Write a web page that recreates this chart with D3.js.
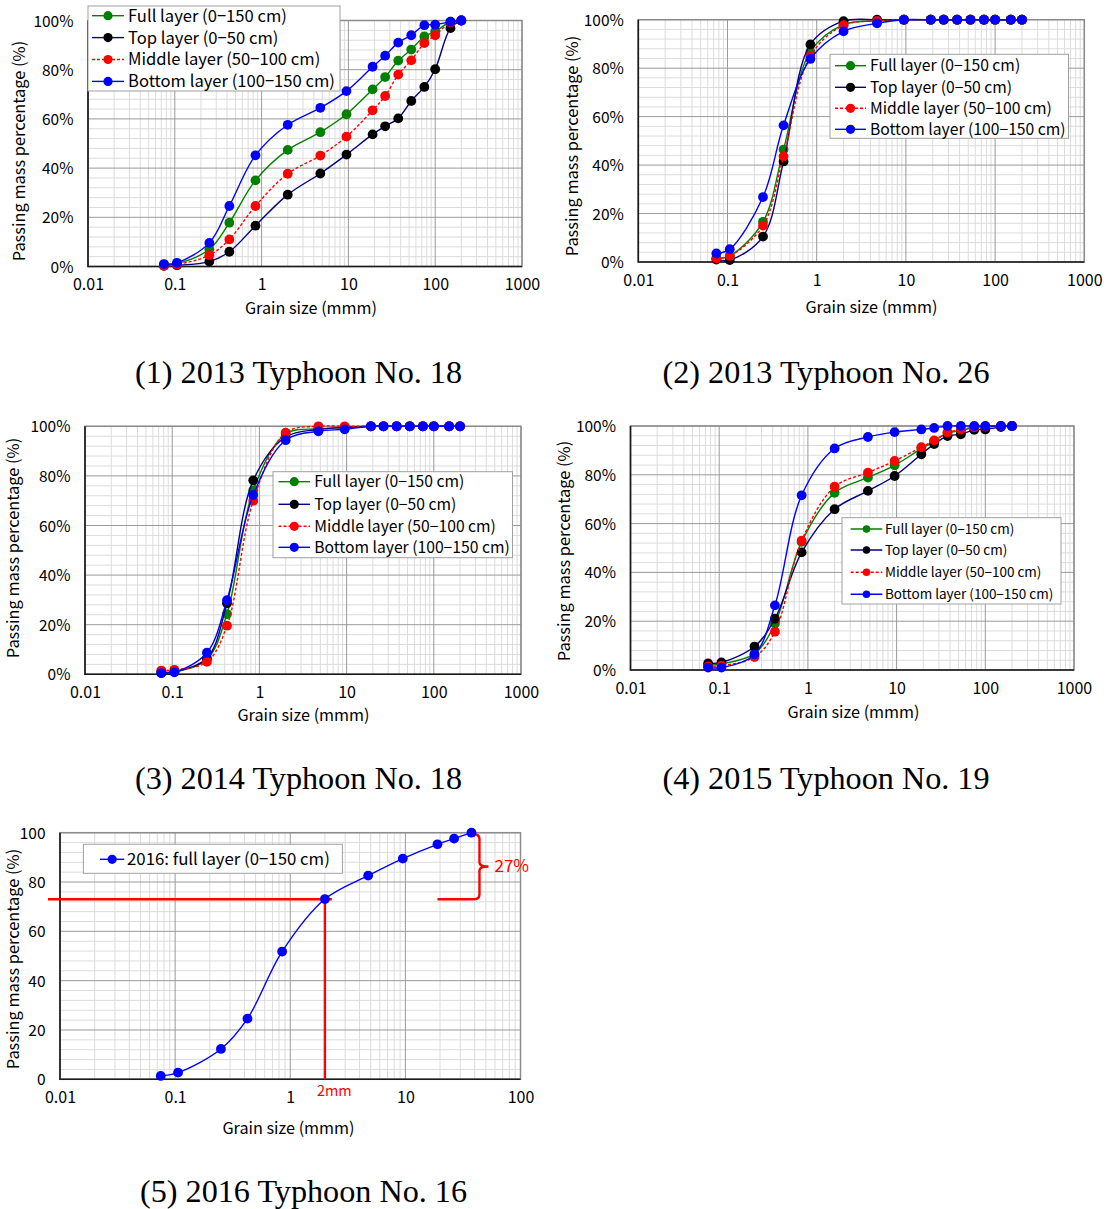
<!DOCTYPE html>
<html><head><meta charset="utf-8">
<script src="https://cdn.jsdelivr.net/npm/d3@7"></script>
<style>
body{margin:0;background:#fff;}
svg text{font-family:"Noto Sans CJK JP","Noto Sans",sans-serif;fill:#000;}
svg text.cap{font-family:"Liberation Serif","Times New Roman",serif;}
</style></head><body>
<svg id="chart" width="1107" height="1209"></svg>
<script>
// ---------------- DATA ----------------
const sieveSizes = [0.075, 0.106, 0.25, 0.425, 0.85, 2, 4.75, 9.5, 19, 26.5, 37.5, 53, 75, 100, 150, 200];
const sieveSizes2016 = [0.075, 0.106, 0.25, 0.425, 0.85, 2, 4.75, 9.5, 19, 26.5, 37.5];
const seriesNames = ["Full layer (0−150 cm)", "Top layer (0−50 cm)", "Middle layer (50−100 cm)", "Bottom layer (100−150 cm)"];
const seriesName2016 = "2016: full layer (0−150 cm)";

// (1) 2013 Typhoon No. 18
const t1318Full   = [0.8, 1.2, 7.0, 17.8, 35.0, 47.4, 54.6, 61.9, 72.0, 77.0, 83.7, 88.2, 93.5, 95.5, 99.5, 100];
const t1318Top    = [0.3, 0.5, 2.0, 6.0, 16.6, 29.2, 37.8, 45.5, 53.7, 57.0, 60.2, 67.3, 73.0, 80.2, 96.9, 100];
const t1318Middle = [0.3, 0.8, 4.6, 11.0, 24.6, 37.7, 45.1, 52.8, 63.5, 69.3, 78.0, 83.8, 90.8, 94.0, 99.2, 100];
const t1318Bottom = [1.0, 1.5, 9.6, 24.6, 45.2, 57.6, 64.5, 71.3, 81.2, 85.7, 91.0, 94.0, 98.1, 98.3, 99.5, 100];

// (2) 2013 Typhoon No. 26
const t1326Full   = [1.5, 2.5, 16.6, 46.4, 86.8, 98.0, 99.5, 100, 100, 100, 100, 100, 100, 100, 100, 100];
const t1326Top    = [1.0, 0.8, 10.5, 41.5, 89.8, 99.4, 100, 100, 100, 100, 100, 100, 100, 100, 100, 100];
const t1326Middle = [1.5, 2.5, 15.0, 43.6, 85.0, 97.7, 99.5, 100, 100, 100, 100, 100, 100, 100, 100, 100];
const t1326Bottom = [3.5, 5.3, 26.8, 56.4, 83.8, 95.2, 98.5, 100, 100, 100, 100, 100, 100, 100, 100, 100];

// (3) 2014 Typhoon No. 18
const t1418Full   = [1.0, 1.0, 6.0, 24.3, 74.2, 96.9, 99.0, 99.5, 100, 100, 100, 100, 100, 100, 100, 100];
const t1418Top    = [0.5, 1.0, 6.5, 28.6, 78.2, 95.7, 98.7, 99.5, 100, 100, 100, 100, 100, 100, 100, 100];
const t1418Middle = [1.5, 1.8, 5.0, 19.6, 70.0, 97.4, 100, 100, 100, 100, 100, 100, 100, 100, 100, 100];
const t1418Bottom = [0.5, 0.8, 8.7, 29.9, 72.3, 94.4, 98.0, 98.8, 100, 100, 100, 100, 100, 100, 100, 100];

// (4) 2015 Typhoon No. 19
const t1519Full   = [2.0, 2.5, 6.7, 19.0, 52.5, 72.6, 78.9, 83.9, 90.7, 93.7, 97.3, 98.0, 99.6, 99.6, 100, 100];
const t1519Top    = [2.7, 3.1, 9.6, 21.0, 48.2, 65.9, 73.4, 79.5, 88.4, 92.6, 95.9, 96.6, 98.4, 98.6, 99.6, 100];
const t1519Middle = [1.5, 1.8, 5.3, 15.7, 53.0, 75.1, 80.9, 85.7, 91.3, 94.1, 97.3, 98.5, 99.5, 99.8, 100, 100];
const t1519Bottom = [1.0, 1.0, 6.4, 26.5, 71.6, 90.8, 95.5, 97.5, 98.6, 99.2, 100, 100, 100, 100, 100, 100];

// (5) 2016 Typhoon No. 16
const t1616Full = [1.35, 2.7, 12.3, 24.6, 51.8, 73.1, 82.6, 89.5, 95.3, 97.6, 100];

const xTicksTo1000 = [0.01, 0.1, 1, 10, 100, 1000];
const xTickLabelsTo1000 = ["0.01", "0.1", "1", "10", "100", "1000"];
const xTicksTo100 = [0.01, 0.1, 1, 10, 100];
const xTickLabelsTo100 = ["0.01", "0.1", "1", "10", "100"];
const yTicks = [0, 20, 40, 60, 80, 100];
const yTickLabelsPct = ["0%", "20%", "40%", "60%", "80%", "100%"];
const yTickLabelsPlain = ["0", "20", "40", "60", "80", "100"];
const captions = ["(1) 2013 Typhoon No. 18", "(2) 2013 Typhoon No. 26", "(3) 2014 Typhoon No. 18", "(4) 2015 Typhoon No. 19", "(5) 2016 Typhoon No. 16"];
const xTitle = "Grain size (mmm)";
const yTitle = "Passing mass percentage (%)";
const annotationSize = 2;      // mm
const annotationPassing = 73;  // %
const annotationLabel = "2mm";
const braceLabel = "27%";

// ---------------- STYLES ----------------
const seriesStyles = [
  {line: "#008000", marker: "#008000", dash: null},
  {line: "#000080", marker: "#000000", dash: null},
  {line: "#ff0000", marker: "#ff0000", dash: "3,2"},
  {line: "#0000ff", marker: "#0000ff", dash: null}
];

// ---------------- LAYOUT ----------------
const panels = [
  {data: [t1318Full, t1318Top, t1318Middle, t1318Bottom], sizes: sieveSizes, names: seriesNames, styles: seriesStyles,
   xDom: [0.01, 1000], xT: xTicksTo1000, xL: xTickLabelsTo1000, yL: yTickLabelsPct,
   left: 88, right: 522, top: 20.5, bottom: 266.5,
   xTitleX: 311, xTitleY: 313.7, yTitleX: 19, yTitleY: 151,
   leg: {x: 88, y: 6, w: 252, h: 85, rows: [15.7, 37.6, 59.5, 81.4], s0: 92, s1: 124, tx: 128, fs: 16.6, mr: 4.6},
   cap: {x: 298.5, y: 383}},
  {data: [t1326Full, t1326Top, t1326Middle, t1326Bottom], sizes: sieveSizes, names: seriesNames, styles: seriesStyles,
   xDom: [0.01, 1000], xT: xTicksTo1000, xL: xTickLabelsTo1000, yL: yTickLabelsPct,
   left: 638.3, right: 1084.3, top: 19.7, bottom: 262,
   xTitleX: 871.5, xTitleY: 313, yTitleX: 572, yTitleY: 146,
   leg: {x: 830, y: 54.3, w: 238.5, h: 84, rows: [65.7, 87.3, 108.3, 129.3], s0: 835, s1: 866, tx: 870, fs: 15.7, mr: 4.6},
   cap: {x: 826, y: 383}},
  {data: [t1418Full, t1418Top, t1418Middle, t1418Bottom], sizes: sieveSizes, names: seriesNames, styles: seriesStyles,
   xDom: [0.01, 1000], xT: xTicksTo1000, xL: xTickLabelsTo1000, yL: yTickLabelsPct,
   left: 85, right: 521, top: 426.3, bottom: 674.3,
   xTitleX: 303.5, xTitleY: 720.5, yTitleX: 13, yTitleY: 548,
   leg: {x: 273, y: 471.7, w: 239.5, h: 86, rows: [481.7, 504.3, 526.3, 547.3], s0: 278.5, s1: 310, tx: 314.2, fs: 15.7, mr: 4.6},
   cap: {x: 298.5, y: 789}},
  {data: [t1519Full, t1519Top, t1519Middle, t1519Bottom], sizes: sieveSizes, names: seriesNames, styles: seriesStyles,
   xDom: [0.01, 1000], xT: xTicksTo1000, xL: xTickLabelsTo1000, yL: yTickLabelsPct,
   left: 630.5, right: 1074, top: 426, bottom: 670,
   xTitleX: 853.5, xTitleY: 718, yTitleX: 564, yTitleY: 551,
   leg: {x: 842, y: 517.7, w: 219, h: 86.3, rows: [529, 550, 572.3, 594.3], s0: 850.7, s1: 882.3, tx: 885, fs: 13.5, mr: 3.8},
   cap: {x: 826, y: 789}},
  {data: [t1616Full], sizes: sieveSizes2016, names: [seriesName2016], styles: [{line: "#0000ff", marker: "#0000ff", dash: null}],
   xDom: [0.01, 100], xT: xTicksTo100, xL: xTickLabelsTo100, yL: yTickLabelsPlain,
   left: 60, right: 520.5, top: 832.7, bottom: 1079.3,
   xTitleX: 288.5, xTitleY: 1134, yTitleX: 13, yTitleY: 959,
   leg: {x: 83.4, y: 844.3, w: 259, h: 29, rows: [859.3], s0: 100, s1: 124.3, tx: 127, fs: 16.8, mr: 4.6},
   cap: {x: 303.5, y: 1201.5}, annotate: true}
];

const svg = d3.select("#chart");
svg.append("rect").attr("width", 1107).attr("height", 1209).attr("fill", "#fff");

panels.forEach((p, pi) => {
  const g = svg.append("g");
  const x = d3.scaleLog().domain(p.xDom).range([p.left, p.right]);
  const y = d3.scaleLinear().domain([0, 100]).range([p.bottom, p.top]);

  // minor grid
  const e0 = Math.round(Math.log10(p.xDom[0])), e1 = Math.round(Math.log10(p.xDom[1]));
  const minorX = [];
  for (let e = e0; e < e1; e++) for (let k = 2; k <= 9; k++) minorX.push(k * Math.pow(10, e));
  const minorY = d3.range(4, 100, 4).filter(v => v % 20 !== 0);
  g.selectAll(null).data(minorX).join("line")
    .attr("x1", d => x(d)).attr("x2", d => x(d)).attr("y1", p.top).attr("y2", p.bottom)
    .attr("stroke", "#dcdcdc").attr("stroke-width", 1);
  g.selectAll(null).data(minorY).join("line")
    .attr("x1", p.left).attr("x2", p.right).attr("y1", d => y(d)).attr("y2", d => y(d))
    .attr("stroke", "#dcdcdc").attr("stroke-width", 1);
  // major grid
  g.selectAll(null).data(p.xT).join("line")
    .attr("x1", d => x(d)).attr("x2", d => x(d)).attr("y1", p.top).attr("y2", p.bottom)
    .attr("stroke", "#9a9a9a").attr("stroke-width", 1);
  g.selectAll(null).data(yTicks).join("line")
    .attr("x1", p.left).attr("x2", p.right).attr("y1", d => y(d)).attr("y2", d => y(d))
    .attr("stroke", "#9a9a9a").attr("stroke-width", 1);
  // frame
  g.append("rect").attr("x", p.left).attr("y", p.top).attr("width", p.right - p.left).attr("height", p.bottom - p.top)
    .attr("fill", "none").attr("stroke", "#8c8c8c").attr("stroke-width", 1.5);
  g.append("path").attr("d", `M${p.left},${p.top}V${p.bottom}H${p.right}`)
    .attr("fill", "none").attr("stroke", "#1a1a1a").attr("stroke-width", 1.6);

  // axes
  const xa = g.append("g").attr("transform", `translate(0,${p.bottom})`)
    .call(d3.axisBottom(x).tickValues(p.xT).tickFormat((d, i) => p.xL[i]).tickSize(0));
  xa.select(".domain").remove();
  xa.selectAll("text").attr("y", 23.8).attr("dy", null).attr("font-size", 16)
    .style("font-family", '"Noto Sans CJK JP",sans-serif').attr("fill", "#000");
  const ya = g.append("g").attr("transform", `translate(${p.left},0)`)
    .call(d3.axisLeft(y).tickValues(yTicks).tickFormat((d, i) => p.yL[i]).tickSize(0));
  ya.select(".domain").remove();
  ya.selectAll("text").attr("x", -14.5).attr("dy", "0.36em").attr("font-size", 15.5)
    .style("font-family", '"Noto Sans CJK JP",sans-serif').attr("fill", "#000");

  // titles
  g.append("text").attr("x", p.xTitleX).attr("y", p.xTitleY).attr("text-anchor", "middle")
    .attr("font-size", 16.2).text(xTitle);
  g.append("text").attr("transform", `translate(${p.yTitleX},${p.yTitleY}) rotate(-90)`)
    .attr("text-anchor", "middle").attr("dy", "0.36em").attr("font-size", 16.4).text(yTitle);

  // annotation (panel 5) drawn under series
  if (p.annotate) {
    const ay = y(annotationPassing), ax = x(annotationSize);
    const red = "#ff0000";
    g.append("line").attr("x1", p.left - 12).attr("x2", ax + 7).attr("y1", ay).attr("y2", ay)
      .attr("stroke", red).attr("stroke-width", 2.4);
    g.append("line").attr("x1", ax).attr("x2", ax).attr("y1", ay).attr("y2", p.bottom)
      .attr("stroke", red).attr("stroke-width", 2.4);
    g.append("text").attr("x", ax - 8).attr("y", p.bottom + 16.5).attr("font-size", 14.5)
      .style("fill", red).text(annotationLabel);
    const xEnd = x(p.sizes[p.sizes.length - 1]);
    const bx = xEnd + 8, top = y(100) + 1, bot = ay, mid = (top + bot) / 2;
    g.append("path")
      .attr("d", `M${x(19)},${bot}H${bx - 5}Q${bx},${bot} ${bx},${bot - 5}V${mid + 4}Q${bx},${mid} ${bx + 9},${mid}` +
                 `Q${bx},${mid} ${bx},${mid - 4}V${top + 5}Q${bx},${top} ${xEnd},${top}`)
      .attr("fill", "none").attr("stroke", red).attr("stroke-width", 2.4);
    g.append("text").attr("x", bx + 15).attr("y", mid + 6).attr("font-size", 17)
      .style("fill", red).text(braceLabel);
  }

  // series
  const line = d3.line().x(d => x(d[0])).y(d => y(d[1])).curve(d3.curveCatmullRom.alpha(0.5));
  p.data.forEach((vals, si) => {
    const st = p.styles[si];
    const pts = p.sizes.map((s, i) => [s, vals[i]]);
    g.append("path").attr("d", line(pts)).attr("fill", "none").attr("stroke", st.line)
      .attr("stroke-width", 1.4).attr("stroke-dasharray", st.dash);
    g.selectAll(null).data(pts).join("circle")
      .attr("cx", d => x(d[0])).attr("cy", d => y(d[1])).attr("r", 4.9).attr("fill", st.marker);
  });

  // legend
  const L = p.leg;
  const lg = g.append("g");
  lg.append("rect").attr("x", L.x).attr("y", L.y).attr("width", L.w).attr("height", L.h)
    .attr("fill", "#fff").attr("stroke", "#a0a0a0").attr("stroke-width", 1);
  p.names.forEach((nm, si) => {
    const st = p.styles[si], ry = L.rows[si];
    lg.append("line").attr("x1", L.s0).attr("x2", L.s1).attr("y1", ry).attr("y2", ry)
      .attr("stroke", st.line).attr("stroke-width", 1.4).attr("stroke-dasharray", st.dash);
    lg.append("circle").attr("cx", (L.s0 + L.s1) / 2).attr("cy", ry).attr("r", L.mr).attr("fill", st.marker);
    lg.append("text").attr("x", L.tx).attr("y", ry).attr("dy", "0.36em").attr("font-size", L.fs).text(nm);
  });

  // caption
  svg.append("text").attr("class", "cap").attr("x", p.cap.x).attr("y", p.cap.y)
    .attr("text-anchor", "middle").attr("font-size", 32.2).text(captions[pi]);
});
</script>
</body></html>
